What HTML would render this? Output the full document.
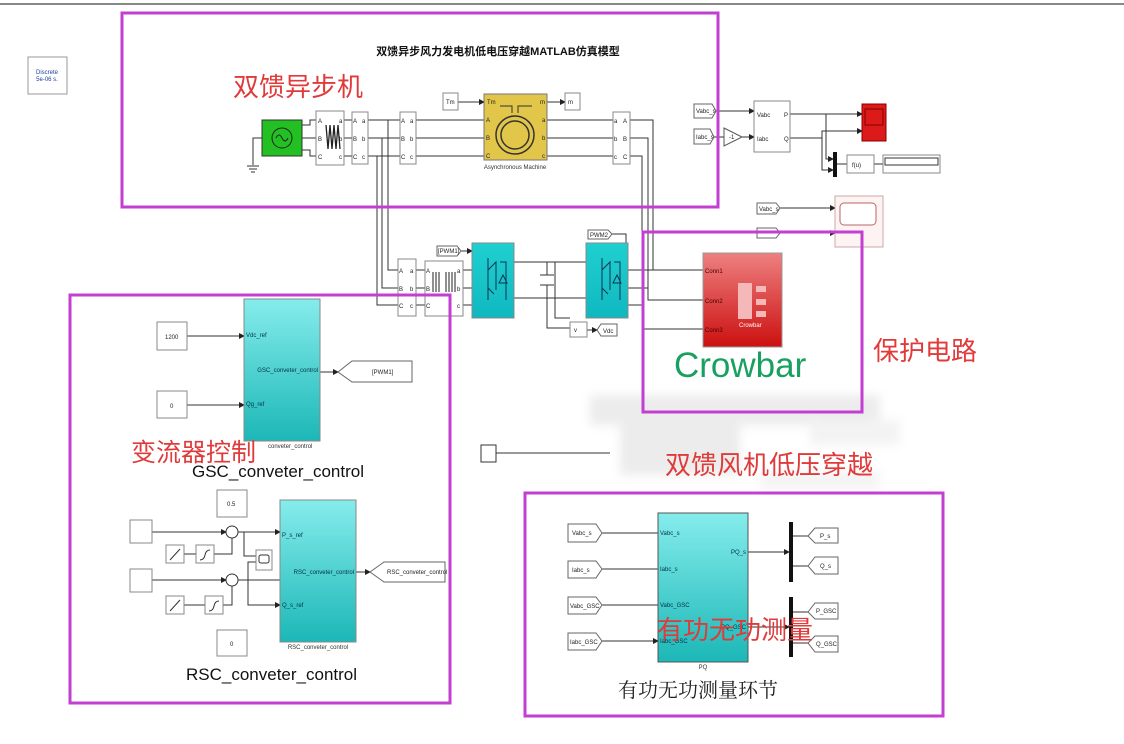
<!DOCTYPE html>
<html><head><meta charset="utf-8"><style>
html,body{margin:0;padding:0;background:#fff;}
svg{display:block;font-family:"Liberation Sans","Noto Sans CJK SC",sans-serif;}
</style></head><body>
<svg width="1124" height="744" viewBox="0 0 1124 744" xmlns="http://www.w3.org/2000/svg">
<defs>
<marker id="ar" markerWidth="6" markerHeight="6" refX="5" refY="3" orient="auto"><path d="M0,0 L6,3 L0,6z" fill="#222"/></marker>
<linearGradient id="cy" x1="0" y1="0" x2="0" y2="1"><stop offset="0" stop-color="#86ecec"/><stop offset="1" stop-color="#1cb7b7"/></linearGradient>
<linearGradient id="cy2" x1="0" y1="0" x2="0" y2="1"><stop offset="0" stop-color="#1fd0d0"/><stop offset="1" stop-color="#10b8c0"/></linearGradient>
<linearGradient id="rd" x1="0" y1="0" x2="0" y2="1"><stop offset="0" stop-color="#ee8080"/><stop offset="1" stop-color="#cc1010"/></linearGradient>
<filter id="bl"><feGaussianBlur stdDeviation="5"/></filter>
</defs>
<rect width="1124" height="744" fill="#fff"/>
<rect x="0" y="3" width="1124" height="2" fill="#888"/>

<g filter="url(#bl)" fill="#e4e4e4" opacity="0.7">
<rect x="590" y="395" width="290" height="30"/>
<rect x="620" y="425" width="120" height="50"/>
<rect x="810" y="420" width="90" height="25" fill="#eee"/>
<rect x="760" y="470" width="120" height="20" fill="#f0f0f0"/>
</g>

<rect x="28" y="57" width="39" height="37" fill="#fff" stroke="#999"/>
<text x="47" y="74" font-size="6" fill="#2040a0" text-anchor="middle">Discrete</text>
<text x="47" y="81" font-size="6" fill="#2040a0" text-anchor="middle">5e-06 s.</text>

<text x="498" y="55" font-size="11" font-weight="bold" text-anchor="middle" fill="#111">双馈异步风力发电机低电压穿越MATLAB仿真模型</text>

<g stroke="#333" stroke-width="1" fill="none">
<path d="M302,125 H310 V120 H316 M302,138 H316 M302,150 H310 V156 H316"/>
<path d="M344,120 H352 M344,138 H352 M344,156 H352"/>
<path d="M368,120 H400 M368,138 H400 M368,156 H400"/>
<path d="M416,120 H484 M416,138 H484 M416,156 H484"/>
<path d="M547,120 H613 M547,138 H613 M547,156 H613"/>
<path d="M458,102 H484" marker-end="url(#ar)"/>
<path d="M547,102 H565" marker-end="url(#ar)"/>
<path d="M262,138 H253 V165"/>
<path d="M388,120 V270 H398 M382,138 V288 H398 M377,156 V305 H398"/>
<path d="M416,270 H425 M416,288 H425 M416,305 H425"/>
<path d="M463,270 H472 M463,288 H472 M463,305 H472"/>
<path d="M461,251 H472" marker-end="url(#ar)"/>
<path d="M514,262 H586 M514,298 H586"/>
<path d="M547,262 V275 M547,285 V298 M540,275 H554 M540,285 H554"/>
<path d="M555,262 V318 H570 M547,298 V328 H570"/>
<path d="M587,330 H597" marker-end="url(#ar)"/>
<path d="M612,234 H626 V258 H628" />
<path d="M630,120 H653 V270 H703 M630,138 H648 V300 H703 M630,156 H642 V329 H703"/>
<path d="M628,270 H653 M628,288 H648 M628,305 H642"/>
<path d="M716,111 H754" marker-end="url(#ar)"/>
<path d="M714,137 H724"/>
<path d="M742,137 H754" marker-end="url(#ar)"/>
<path d="M790,114 H862" marker-end="url(#ar)"/>
<path d="M790,138 H822 V131 H862" marker-end="url(#ar)"/>
<path d="M826,114 V159 H833" marker-end="url(#ar)"/>
<path d="M822,138 V170 H833" marker-end="url(#ar)"/>
<path d="M837,164 H847 M874,164 H883"/>
<path d="M780,208 H835" marker-end="url(#ar)"/>
<path d="M780,233 H835" marker-end="url(#ar)"/>
<path d="M496,453 H610"/>
<path d="M187,336 H244" marker-end="url(#ar)"/>
<path d="M187,405 H244" marker-end="url(#ar)"/>
<path d="M320,372 H338" marker-end="url(#ar)"/>
<path d="M152,532 H226" marker-end="url(#ar)"/>
<path d="M152,580 H226" marker-end="url(#ar)"/>
<path d="M184,554 H196 M214,554 H232 V538"/>
<path d="M184,605 H205 M223,605 H232 V584"/>
<path d="M238,580 H280" />
<path d="M244,532 V556 H256 M248,580 V562 H256"/>
<path d="M248,580 V605 H280" marker-end="url(#ar)"/>
<path d="M238,532 H280" marker-end="url(#ar)"/>
<path d="M356,572 H370" marker-end="url(#ar)"/>
<path d="M602,533 H658 M602,569 H658 M602,605 H658 M602,641 H658" marker-end="url(#ar)"/>
<path d="M748,552 H789" marker-end="url(#ar)"/>
<path d="M748,627 H789" marker-end="url(#ar)"/>
<path d="M793,536 H808 M793,566 H808 M793,612 H808 M793,643 H808"/>
</g>

<rect x="262" y="120" width="40" height="36" fill="#22c022" stroke="#333"/>
<circle cx="282" cy="138" r="10" fill="none" stroke="#222"/>
<path d="M276,138 q3,-6 6,0 t6,0" fill="none" stroke="#222"/>
<path d="M247,166 H259 M249,169 H257 M251,172 H255" stroke="#333"/>
<g fill="#fff" stroke="#888">
<rect x="316" y="111" width="28" height="54"/>
<rect x="352" y="112" width="16" height="52"/>
<rect x="400" y="112" width="16" height="52"/>
<rect x="613" y="112" width="17" height="52"/>
<rect x="443" y="93" width="15" height="17"/>
<rect x="565" y="93" width="15" height="17"/>
<rect x="398" y="259" width="18" height="57"/>
<rect x="425" y="261" width="38" height="55"/>
<rect x="570" y="322" width="17" height="15"/>
<rect x="754" y="101" width="36" height="51"/>
<rect x="847" y="155" width="27" height="18"/>
<rect x="883" y="155" width="57" height="18"/>
<rect x="157" y="322" width="30" height="28"/>
<rect x="157" y="391" width="30" height="27"/>
<rect x="217" y="490" width="30" height="27"/>
<rect x="217" y="630" width="30" height="26"/>
<rect x="130" y="520" width="22" height="23"/>
<rect x="130" y="569" width="22" height="23"/>
<rect x="166" y="545" width="18" height="18"/>
<rect x="196" y="545" width="18" height="18"/>
<rect x="166" y="596" width="18" height="18"/>
<rect x="205" y="596" width="18" height="18"/>
<rect x="256" y="550" width="16" height="20"/>
<rect x="481" y="445" width="15" height="17" stroke="#333"/>
</g>
<rect x="885" y="158" width="53" height="7" fill="#fff" stroke="#333"/>
<rect x="259" y="555" width="10" height="8" rx="2" fill="none" stroke="#333"/>
<path d="M170,560 L180,549 M200,560 q4,0 5,-5 t5,-5 M170,611 L180,600 M209,611 q4,0 5,-5 t5,-5" stroke="#333" fill="none"/>
<circle cx="232" cy="532" r="6" fill="#fff" stroke="#333"/>
<circle cx="232" cy="580" r="6" fill="#fff" stroke="#333"/>
<path d="M326,125 l2,24 l2,-24 l2,24 l2,-24 l2,24 l2,-24 l2,24" fill="none" stroke="#222" stroke-width="1.3"/>
<path d="M433,272 v20 M436,272 v20 M439,272 v20 M446,272 v20 M449,272 v20 M452,272 v20 M455,272 v20" stroke="#222"/>
<g font-size="6" fill="#222">
<text x="318" y="123">A</text><text x="339" y="123">a</text><text x="318" y="141">B</text><text x="339" y="141">b</text><text x="318" y="159">C</text><text x="339" y="159">c</text>
<text x="353" y="123">A</text><text x="362" y="123">a</text><text x="353" y="141">B</text><text x="362" y="141">b</text><text x="353" y="159">C</text><text x="362" y="159">c</text>
<text x="401" y="123">A</text><text x="410" y="123">a</text><text x="401" y="141">B</text><text x="410" y="141">b</text><text x="401" y="159">C</text><text x="410" y="159">c</text>
<text x="614" y="123">a</text><text x="623" y="123">A</text><text x="614" y="141">b</text><text x="623" y="141">B</text><text x="614" y="159">c</text><text x="623" y="159">C</text>
<text x="399" y="273">A</text><text x="410" y="273">a</text><text x="399" y="291">B</text><text x="410" y="291">b</text><text x="399" y="308">C</text><text x="410" y="308">c</text>
<text x="426" y="273">A</text><text x="457" y="273">a</text><text x="426" y="291">B</text><text x="457" y="291">b</text><text x="426" y="308">C</text><text x="457" y="308">c</text>
<text x="446" y="104">Tm</text><text x="568" y="104">m</text>
<text x="757" y="117">Vabc</text><text x="757" y="141">Iabc</text><text x="784" y="117">P</text><text x="784" y="141">Q</text>
<text x="852" y="167">f(u)</text>
<text x="165" y="339">1200</text><text x="170" y="408">0</text>
<text x="227" y="506">0.5</text><text x="230" y="646">0</text>
<text x="574" y="332">v</text>
</g>
<rect x="484" y="94" width="63" height="66" fill="#e2c64a" stroke="#777"/>
<circle cx="515" cy="135" r="19" fill="none" stroke="#333" stroke-width="1.5"/>
<circle cx="515" cy="135" r="14" fill="none" stroke="#333" stroke-width="1.5"/>
<path d="M500,106 H512 V113 M518,113 V106 H532" stroke="#333" fill="none"/>
<g font-size="6" fill="#222"><text x="487" y="104">Tm</text><text x="540" y="104">m</text><text x="486" y="122">A</text><text x="486" y="140">B</text><text x="486" y="158">C</text><text x="542" y="122">a</text><text x="542" y="140">b</text><text x="542" y="158">c</text></g>
<text x="515" y="169" font-size="6" text-anchor="middle" fill="#333">Asynchronous Machine</text>
<rect x="472" y="243" width="42" height="75" fill="url(#cy2)" stroke="#888"/>
<rect x="586" y="243" width="42" height="75" fill="url(#cy2)" stroke="#888"/>
<path d="M488,258 V300 M488,270 l8,-8 V290 M488,288 l6,6 M500,262 H506 V300 M503,275 l-4,8 h8z" stroke="#135" fill="none"/>
<path d="M602,258 V300 M602,270 l8,-8 V290 M602,288 l6,6 M614,262 H620 V300 M617,275 l-4,8 h8z" stroke="#135" fill="none"/>
<g fill="#fff" stroke="#666" font-size="6">
<path d="M437,246 H457 L461,251 L457,256 H437z"/>
<path d="M588,230 H608 L612,234 L608,239 H588z"/>
<path d="M597,330 L601,324 H617 V336 H601z"/>
<path d="M694,104 H712 L716,111 L712,118 H694z"/>
<path d="M694,129 H710 L714,137 L710,144 H694z"/>
<path d="M757,203 H776 L780,208 L776,214 H757z"/>
<path d="M757,228 H776 L780,233 L776,238 H757z"/>
<path d="M338,372 L352,361 H412 V382 H352z"/>
<path d="M370,572 L384,562 H445 V582 H384z"/>
<path d="M568,524 H596 L602,533 L596,542 H568z"/>
<path d="M568,561 H596 L602,569 L596,578 H568z"/>
<path d="M568,597 H596 L602,605 L596,614 H568z"/>
<path d="M568,633 H596 L602,641 L596,650 H568z"/>
<path d="M808,536 L815,528 H838 V543 H815z"/>
<path d="M808,566 L815,557 H838 V574 H815z"/>
<path d="M808,612 L815,603 H838 V619 H815z"/>
<path d="M808,643 L815,636 H838 V652 H815z"/>
</g>
<path d="M724,128 L742,137 L724,146z" fill="#fff" stroke="#555"/>
<g font-size="6" fill="#222">
<text x="438" y="253">[PWM1]</text><text x="590" y="237">PWM2</text><text x="603" y="333">Vdc</text>
<text x="696" y="113">Vabc_s</text><text x="696" y="139">Iabc_s</text><text x="729" y="139">-1</text>
<text x="759" y="211">Vabc_s</text>
<text x="372" y="374">[PWM1]</text><text x="387" y="574">RSC_conveter_control</text>
<text x="572" y="535">Vabc_s</text><text x="572" y="572">Iabc_s</text><text x="570" y="608">Vabc_GSC</text><text x="570" y="644">Iabc_GSC</text>
<text x="820" y="538">P_s</text><text x="820" y="568">Q_s</text><text x="816" y="613">P_GSC</text><text x="816" y="646">Q_GSC</text>
</g>
<rect x="862" y="104" width="24" height="37" fill="#dd1a1a" stroke="#800"/>
<rect x="865" y="109" width="18" height="16" fill="none" stroke="#800"/>
<rect x="835" y="196" width="48" height="51" fill="#fdf3f3" stroke="#caa"/>
<rect x="840" y="203" width="36" height="22" rx="4" fill="#fff" stroke="#b66"/>
<rect x="833" y="152" width="4" height="25" fill="#111"/>
<rect x="789" y="522" width="4" height="60" fill="#111"/>
<rect x="789" y="597" width="4" height="60" fill="#111"/>
<rect x="703" y="253" width="79" height="94" fill="url(#rd)" stroke="#999"/>
<rect x="738" y="283" width="14" height="36" fill="#f4b8b8"/>
<rect x="756" y="286" width="10" height="6" fill="#f4b8b8"/><rect x="756" y="299" width="10" height="6" fill="#f4b8b8"/><rect x="756" y="311" width="10" height="6" fill="#f4b8b8"/>
<g font-size="6" fill="#400"><text x="705" y="273">Conn1</text><text x="705" y="303">Conn2</text><text x="705" y="332">Conn3</text><text x="739" y="327" fill="#fff">Crowbar</text></g>
<rect x="244" y="299" width="76" height="142" fill="url(#cy)" stroke="#888"/>
<rect x="280" y="500" width="76" height="142" fill="url(#cy)" stroke="#888"/>
<rect x="658" y="513" width="90" height="149" fill="url(#cy)" stroke="#555"/>
<g font-size="6" fill="#034">
<text x="246" y="337">Vdc_ref</text><text x="246" y="406">Qg_ref</text><text x="318" y="372" text-anchor="end">GSC_conveter_control</text>
<text x="268" y="448" fill="#333">conveter_control</text>
<text x="282" y="537">P_s_ref</text><text x="282" y="607">Q_s_ref</text><text x="354" y="574" text-anchor="end">RSC_conveter_control</text>
<text x="318" y="649" fill="#333" text-anchor="middle">RSC_conveter_control</text>
<text x="660" y="535">Vabc_s</text><text x="660" y="571">Iabc_s</text><text x="660" y="607">Vabc_GSC</text><text x="660" y="643">Iabc_GSC</text>
<text x="746" y="554" text-anchor="end">PQ_s</text><text x="746" y="629" text-anchor="end">PQ_GSC</text>
<text x="703" y="669" fill="#333" text-anchor="middle">PQ</text>
</g>

<text x="233" y="96" font-size="26" fill="#e03a3a">双馈异步机</text>
<text x="131" y="461" font-size="25" fill="#e03a3a">变流器控制</text>
<text x="192" y="477" font-size="17" fill="#111">GSC_conveter_control</text>
<text x="186" y="680" font-size="17" fill="#111">RSC_conveter_control</text>
<text x="674" y="377" font-size="35" fill="#18a060">Crowbar</text>
<text x="873" y="360" font-size="26" fill="#e03a3a">保护电路</text>
<text x="665" y="474" font-size="26" fill="#e03a3a">双馈风机低压穿越</text>
<text x="657" y="639" font-size="26" fill="#e03a3a">有功无功测量</text>
<text x="618" y="697" font-size="20" fill="#222" font-family="Noto Serif CJK SC,serif">有功无功测量环节</text>

<g fill="none" stroke="#c23fd2" stroke-width="3">
<rect x="122" y="13" width="596" height="194"/>
<rect x="70" y="295" width="380" height="408"/>
<rect x="643" y="232" width="219" height="180"/>
<rect x="525" y="493" width="418" height="223"/>
</g>
</svg>
</body></html>
